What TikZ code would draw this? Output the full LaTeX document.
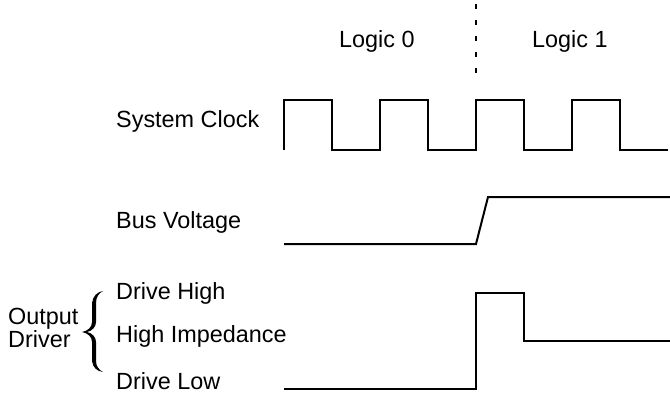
\documentclass[tikz,border=0pt]{standalone}
\usepackage{fontspec}
\setmainfont{Liberation Sans}
\usepackage{tikz}
\usetikzlibrary{positioning}

\begin{document}
\begin{tikzpicture}[
            x=1bp, y=-1bp,
            label/.style={anchor=base west, inner sep=0pt, font=\fontsize{23.4bp}{27bp}\selectfont},
            wave/.style={line width=2bp, line join=miter},
            divider/.style={line width=2bp, dash pattern=on 5bp off 11bp}
        ]

        \useasboundingbox (0,0) rectangle (670,396);

        % ======================================
        % Labels
        % ======================================
        \node[label] (logic0) at (339,47) {Logic 0};
        \node[label] (logic1) at (532,47) {Logic 1};

        \node[label] (clk) at (116,127) {System Clock};
        \node[label] (bus) at (116,228) {Bus Voltage};

        \node[label] (hi) at (116,299) {Drive High};
        \node[label] (hiz) at (116,342) {High Impedance};
        \node[label] (lo) at (116,389) {Drive Low};

        \node[label, anchor=west, align=left, font=\fontsize{23.4bp}{18bp}\selectfont] (out) at (8,328) {Output\\Driver};

        % brace grouping the three driver states
        \fill (103,291) .. controls (97,292) and (93,296) .. (92,303) -- (92,322)
            .. controls (92,327) and (88,331) .. (82,332)
            .. controls (88,333) and (92,337) .. (92,342) -- (92,361)
            .. controls (93,368) and (97,371) .. (103,372)
            .. controls (99,370) and (96,366) .. (96,361) -- (96,342)
            .. controls (96,337) and (92,333) .. (87,332)
            .. controls (92,331) and (96,327) .. (96,322) -- (96,303)
            .. controls (96,297) and (99,293) .. (103,291) -- cycle;

        % ======================================
        % Divider between the two bits
        % ======================================
        \draw[divider] (476,4) -- (476,73);

        % ======================================
        % Waveforms
        % ======================================
        % System clock
        \draw[wave] (284,150)
        \foreach \x in {284,380,476,572} {
            -- (\x,100) -- (\x+48,100) -- (\x+48,150) -- (\x+96,150)
        };

        % Bus voltage
        \draw[wave] (284,244) -- (476,244) -- (488,197) -- (670,197);

        % Output driver
        \draw[wave] (284,389) -- (476,389) -- (476,293) -- (524,293) -- (524,341) -- (670,341);

    \end{tikzpicture}
\end{document}
